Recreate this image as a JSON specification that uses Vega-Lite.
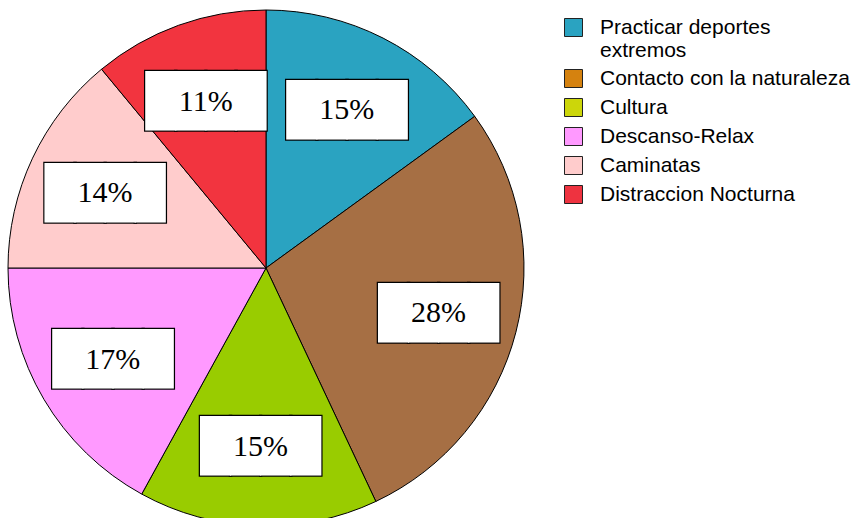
{
  "$schema": "https://vega.github.io/schema/vega-lite/v6.json",
  "width": 532,
  "height": 536,
  "autosize": {"type": "none"},
  "padding": {"left": 0, "top": 0, "right": 323, "bottom": 0},
  "background": "white",
  "config": {"view": {"stroke": null}},
  "data": {"values": [
    {"cat": "Practicar deportes extremos", "value": 0.15, "idx": 1},
    {"cat": "Contacto con la naturaleza", "value": 0.28, "idx": 2},
    {"cat": "Cultura", "value": 0.15, "idx": 3},
    {"cat": "Descanso-Relax", "value": 0.17, "idx": 4},
    {"cat": "Caminatas", "value": 0.14, "idx": 5},
    {"cat": "Distraccion Nocturna", "value": 0.11, "idx": 6}
  ]},
  "encoding": {
    "theta": {"field": "value", "type": "quantitative", "stack": true},
    "order": {"field": "idx", "type": "quantitative"}
  },
  "layer": [
    {
      "mark": {"type": "arc", "outerRadius": 258, "stroke": "black", "strokeWidth": 1},
      "encoding": {
        "fill": {
          "field": "cat", "type": "nominal",
          "sort": {"field": "idx", "op": "min"},
          "scale": {
            "range": ["#2AA3C1", "#A66F44", "#99CC00", "#FF99FF", "#FFCCCC", "#F2343F"]
          },
          "legend": null
        }
      }
    },
    {
      "mark": {"type": "text", "text": ""},
      "encoding": {
        "color": {
          "field": "cat", "type": "nominal",
          "scale": {
            "domain": ["Practicar deportes extremos", "Contacto con la naturaleza", "Cultura", "Descanso-Relax", "Caminatas", "Distraccion Nocturna"],
            "range": ["#2AA3C1", "#D5820F", "#CCD60A", "#FF99FF", "#FFCCCC", "#EE3340"]
          },
          "legend": {
            "orient": "none", "legendX": 563, "legendY": 17, "title": null,
            "symbolType": "square", "symbolSize": 324, "symbolStrokeColor": "#222", "symbolStrokeWidth": 1, "symbolOpacity": 1,
            "labelFont": "Liberation Sans", "labelFontSize": 21, "labelColor": "black", "labelOffset": 16,
            "rowPadding": 6, "padding": 0, "labelLimit": 400, "labelLineHeight": 23,
            "labelExpr": "datum.label == 'Practicar deportes extremos' ? ['Practicar deportes', 'extremos'] : datum.label"
          }
        }
      }
    },
    {
      "mark": {"type": "text", "radius": 178, "font": "DejaVu Sans Mono", "fontSize": 50, "text": "████", "fill": "black", "stroke": "black", "strokeWidth": 2.5, "dy": 17.3, "baseline": "alphabetic"},
      "encoding": {"detail": {"field": "cat", "type": "nominal"}}
    },
    {
      "mark": {"type": "text", "radius": 178, "font": "DejaVu Sans Mono", "fontSize": 50, "text": "████", "fill": "white", "dy": 17.3, "baseline": "alphabetic"},
      "encoding": {"detail": {"field": "cat", "type": "nominal"}}
    },
    {
      "mark": {"type": "text", "radius": 178, "font": "Liberation Serif", "fontSize": 30, "fill": "black", "dy": 10, "baseline": "alphabetic"},
      "encoding": {
        "detail": {"field": "cat", "type": "nominal"},
        "text": {"field": "value", "type": "quantitative", "format": ".0%"}
      }
    }
  ]
}
